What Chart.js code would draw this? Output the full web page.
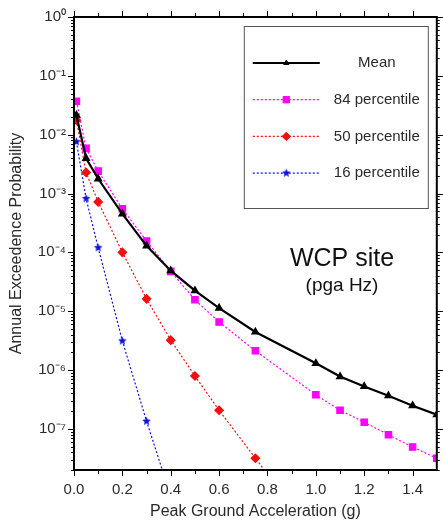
<!DOCTYPE html>
<html>
<head>
<meta charset="utf-8">
<script src="https://cdn.jsdelivr.net/npm/chart.js@4/dist/chart.umd.min.js"></script>
<style>
  html, body { margin: 0; padding: 0; background: #fff; }
  #wrap { width: 443px; height: 522px; }
</style>
</head>
<body>
<div id="wrap"><canvas id="hazardChart"></canvas></div>
<script>
// hazard curves: annual exceedance probability vs PGA (g)
const pga = [0.01, 0.05, 0.1, 0.2, 0.3, 0.4, 0.5, 0.6, 0.75, 1.0, 1.1, 1.2, 1.3, 1.4, 1.5];
const meanHaz = [2.14e-2, 3.97e-3, 1.78e-3, 4.5e-4, 1.29e-4, 4.88e-5, 2.24e-5, 1.13e-5, 4.44e-6, 1.30e-6, 7.74e-7, 5.25e-7, 3.66e-7, 2.48e-7, 1.74e-7];
const p84Haz = [3.69e-2, 5.85e-3, 2.4e-3, 5.48e-4, 1.56e-4, 4.75e-5, 1.56e-5, 6.55e-6, 2.12e-6, 3.8e-7, 2.07e-7, 1.30e-7, 7.94e-8, 4.91e-8, 3.17e-8];
const p50Haz = [1.76e-2, 2.28e-3, 7.2e-4, 1.0e-4, 1.62e-5, 3.22e-6, 7.94e-7, 2.07e-7, 3.17e-8, 1.4e-9];
const p16Haz = [7.6e-3, 8.2e-4, 1.2e-4, 3.13e-6, 1.35e-7, 7.2e-9];

const seriesNames = ['Mean', '84 percentile', '50 percentile', '16 percentile'];
const xTickValues = [0, 0.2, 0.4, 0.6, 0.8, 1.0, 1.2, 1.4];
const xMinorValues = [0.1, 0.3, 0.5, 0.7, 0.9, 1.1, 1.3];
const yDecades = [1, 1e-1, 1e-2, 1e-3, 1e-4, 1e-5, 1e-6, 1e-7];
const yMin = 2e-8, yMax = 1;

const FONT = "'Liberation Sans', Arial, Helvetica, sans-serif";
Chart.defaults.font.family = FONT;
Chart.defaults.color = '#2a2a2a';

// log minor ticks 2..9 inside the axis range
const yMinor = [];
for (let k = -8; k <= -1; k++) {
  for (let m = 2; m <= 9; m++) {
    const v = m * Math.pow(10, k);
    if (v >= yMin && v <= yMax) yMinor.push(v);
  }
}

const SUP = { '-': '\u207B', '0': '\u2070', '1': '\u00B9', '2': '\u00B2', '3': '\u00B3', '4': '\u2074', '5': '\u2075', '6': '\u2076', '7': '\u2077', '8': '\u2078', '9': '\u2079' };
function powLabel(v) {
  const e = String(Math.round(Math.log10(v)));
  return '10' + e.split('').map(c => SUP[c]).join('');
}

function toPoints(ys) {
  return ys.map((y, i) => ({ x: pga[i], y }));
}

// filled five-point star used as marker
function starImage(r, color) {
  const c = document.createElement('canvas');
  c.width = c.height = 2 * r + 2;
  const g = c.getContext('2d');
  g.fillStyle = color;
  g.beginPath();
  for (let k = 0; k < 10; k++) {
    const rr = k % 2 ? r * 0.45 : r;
    const ang = -Math.PI / 2 + k * Math.PI / 5;
    g.lineTo(r + 1 + rr * Math.cos(ang), r + 1 + rr * Math.sin(ang));
  }
  g.closePath();
  g.fill();
  return c;
}

const blueStar = starImage(4.5, '#1010e0');

// frame + outside tick marks on all four sides
const axesFrame = {
  id: 'axesFrame',
  afterDatasetsDraw(chart) {
    const { ctx, chartArea: a, scales: { x, y } } = chart;
    ctx.save();
    ctx.strokeStyle = '#000';
    ctx.lineWidth = 1;
    ctx.beginPath();
    const seg = (x0, y0, x1, y1) => { ctx.moveTo(x0, y0); ctx.lineTo(x1, y1); };
    xTickValues.concat(xMinorValues).forEach(v => {
      const px = Math.round(x.getPixelForValue(v)) + 0.5;
      const len = xTickValues.includes(v) ? 6 : 4;
      seg(px, a.bottom, px, a.bottom + len);
      seg(px, a.top, px, a.top - len);
    });
    yDecades.concat(yMinor).forEach(v => {
      const py = Math.round(y.getPixelForValue(v)) + 0.5;
      const len = yDecades.includes(v) ? 6 : 3;
      seg(a.left, py, a.left - len, py);
      seg(a.right, py, a.right + len, py);
    });
    ctx.stroke();
    ctx.lineWidth = 2;
    ctx.strokeRect(a.left, a.top, a.right - a.left, a.bottom - a.top);
    ctx.restore();
  }
};

// boxed legend in the upper right + site label
const boxLegend = {
  id: 'boxLegend',
  afterDatasetsDraw(chart) {
    const { ctx, chartArea: a } = chart;
    const bx = a.right - 193, by = a.top + 9, bw = 184, bh = 182;
    ctx.save();
    ctx.fillStyle = '#fff';
    ctx.fillRect(bx, by, bw, bh);
    ctx.strokeStyle = '#555';
    ctx.lineWidth = 1;
    ctx.strokeRect(bx + 0.5, by + 0.5, bw, bh);
    chart.data.datasets.forEach((ds, i) => {
      const yy = by + 37 + i * 36.7;
      ctx.setLineDash(ds.borderDash || []);
      ctx.strokeStyle = ds.borderColor;
      ctx.lineWidth = ds.borderWidth;
      ctx.beginPath();
      ctx.moveTo(bx + 9, yy);
      ctx.lineTo(bx + 76, yy);
      ctx.stroke();
      ctx.setLineDash([]);
      ctx.fillStyle = ds.pointBackgroundColor;
      ctx.strokeStyle = ds.pointBorderColor;
      ctx.lineWidth = 1;
      Chart.helpers.drawPoint(ctx, { pointStyle: ds.pointStyle, radius: ds.pointRadius, rotation: 0, borderWidth: 1 }, bx + 42.5, yy);
      ctx.fillStyle = '#2a2a2a';
      ctx.font = '15px ' + FONT;
      ctx.textAlign = 'center';
      ctx.textBaseline = 'middle';
      ctx.fillText(ds.label, bx + 133, yy);
    });

    ctx.fillStyle = '#111';
    ctx.textAlign = 'center';
    ctx.textBaseline = 'alphabetic';
    ctx.font = '25px ' + FONT;
    ctx.fillText('WCP site', 342, 266);
    ctx.font = '19px ' + FONT;
    ctx.fillText('(pga Hz)', 342, 291);
    ctx.restore();
  }
};

new Chart(document.getElementById('hazardChart'), {
  type: 'line',
  data: {
    datasets: [
      {
        label: seriesNames[0], data: toPoints(meanHaz),
        borderColor: '#000', borderWidth: 2.2,
        pointStyle: 'triangle', pointRadius: 3,
        pointBackgroundColor: '#000', pointBorderColor: '#000'
      },
      {
        label: seriesNames[1], data: toPoints(p84Haz),
        borderColor: '#ff00ff', borderWidth: 1.2, borderDash: [2, 2],
        pointStyle: 'rect', pointRadius: 4.5,
        pointBackgroundColor: '#ff00ff', pointBorderColor: '#ff00ff'
      },
      {
        label: seriesNames[2], data: toPoints(p50Haz),
        borderColor: '#f01010', borderWidth: 1.2, borderDash: [2, 2],
        pointStyle: 'rectRot', pointRadius: 4.2,
        pointBackgroundColor: '#f01010', pointBorderColor: '#f01010'
      },
      {
        label: seriesNames[3], data: toPoints(p16Haz),
        borderColor: '#1010e0', borderWidth: 1.2, borderDash: [2, 2],
        pointStyle: blueStar, pointRadius: 4.5,
        pointBackgroundColor: '#1010e0', pointBorderColor: '#1010e0'
      }
    ]
  },
  options: {
    responsive: true,
    maintainAspectRatio: false,
    animation: false,
    layout: { padding: { top: 14, right: 3, left: 0, bottom: 0 } },
    elements: { line: { tension: 0 } },
    plugins: { legend: { display: false }, tooltip: { enabled: false } },
    scales: {
      x: {
        type: 'linear', min: 0, max: 1.5,
        grid: { display: false, drawTicks: false },
        border: { display: false },
        afterBuildTicks: s => { s.ticks = xTickValues.map(v => ({ value: v })); },
        afterFit: s => { s.height = 52; },
        ticks: { padding: 11, font: { size: 15 }, callback: v => Number(v).toFixed(1) },
        title: { display: true, text: 'Peak Ground Acceleration (g)', font: { size: 16 }, padding: { top: 0, bottom: 1 } }
      },
      y: {
        type: 'logarithmic', min: yMin, max: yMax,
        grid: { display: false, drawTicks: false },
        border: { display: false },
        afterBuildTicks: s => { s.ticks = yDecades.map(v => ({ value: v, major: true })); },
        afterFit: s => { s.width = 74; },
        ticks: { padding: 8, autoSkip: false, font: { size: 15 }, callback: v => powLabel(v) },
        title: { display: true, text: 'Annual Exceedence Probability', font: { size: 16 }, padding: { top: 7, bottom: 0 } }
      }
    }
  },
  plugins: [axesFrame, boxLegend]
});
</script>
</body>
</html>
